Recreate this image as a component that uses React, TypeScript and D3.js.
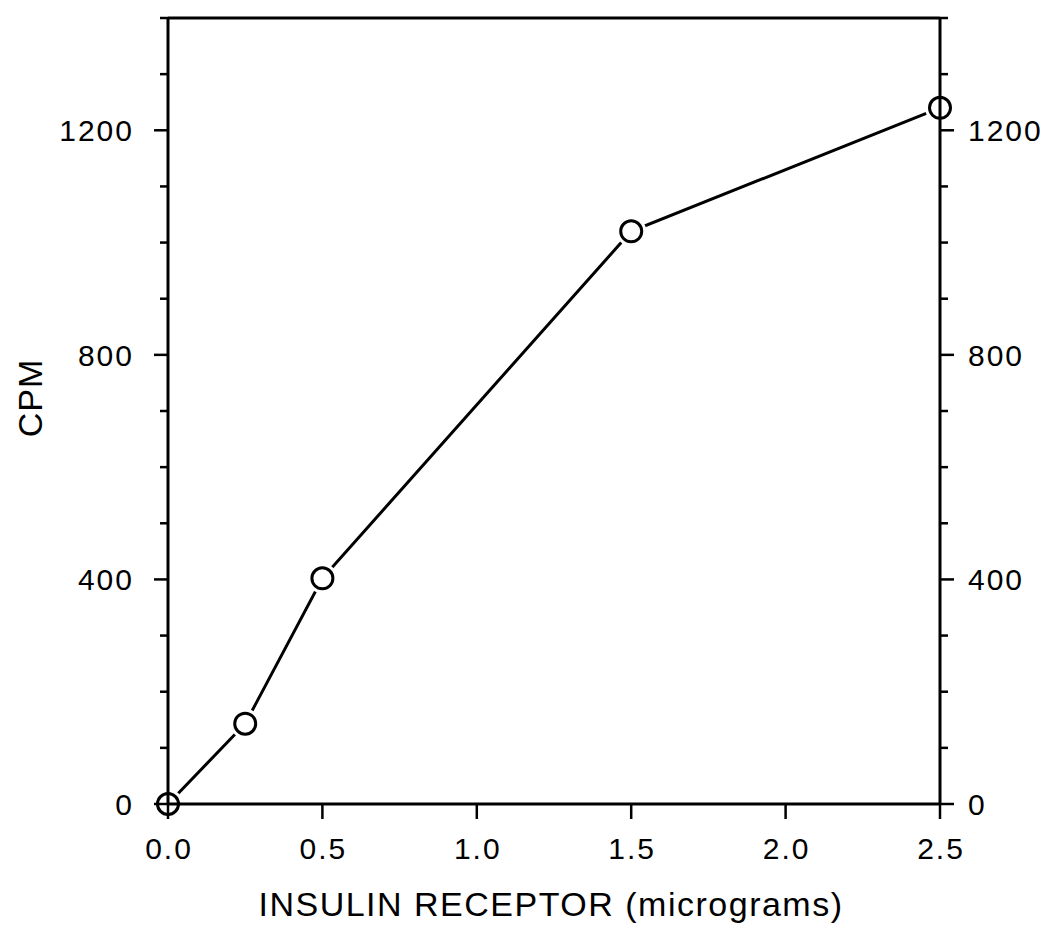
import React from "react";
import * as d3 from "d3";

const xValues = [0, 0.25, 0.5, 1.5, 2.5];
const cpmValues = [0, 143, 402, 1020, 1240];
const xTicks = [0, 0.5, 1.0, 1.5, 2.0, 2.5];
const yMajorTicks = [0, 400, 800, 1200];
const yMinorTicks = d3.range(0, 1401, 100);

const W = 1051;
const H = 928;
const M = { left: 168, right: 940, top: 18, bottom: 804 };
const FONT = "'Liberation Sans', Arial, Helvetica, sans-serif";

export default function App() {
  const x = d3.scaleLinear().domain([0, 2.5]).range([M.left, M.right]);
  const y = d3.scaleLinear().domain([0, 1400]).range([M.bottom, M.top]);
  const pts = xValues.map((v, i) => [v, cpmValues[i]] as [number, number]);
  const line = d3.line<[number, number]>().x((d) => x(d[0])).y((d) => y(d[1]));

  const majorLen = 14;
  const minorLen = 8;
  const sw = 3;

  return (
    <svg
      width={W}
      height={H}
      style={{ position: "absolute", left: 0, top: 0, background: "#fff" }}
      fontFamily={FONT}
    >
      <rect x={0} y={0} width={W} height={H} fill="#fff" />
      {/* data line */}
      <path d={line(pts) || ""} fill="none" stroke="#000" strokeWidth={3} />
      {/* white halos so the line stops short of markers */}
      {pts.map((d, i) => (
        <circle key={"h" + i} cx={x(d[0])} cy={y(d[1])} r={15} fill="#fff" />
      ))}
      {/* frame */}
      <line x1={M.left} x2={M.left} y1={M.top} y2={M.bottom} stroke="#000" strokeWidth={sw} />
      <line x1={M.right} x2={M.right} y1={M.top} y2={M.bottom} stroke="#000" strokeWidth={sw} />
      <line x1={M.left} x2={M.right} y1={M.bottom} y2={M.bottom} stroke="#000" strokeWidth={sw} />
      <line x1={M.left} x2={M.right} y1={M.top} y2={M.top} stroke="#000" strokeWidth={sw} />
      {/* y ticks left & right */}
      {yMinorTicks.map((t) => {
        const len = yMajorTicks.includes(t) ? majorLen : minorLen;
        return (
          <g key={"yt" + t}>
            <line x1={M.left - len} x2={M.left} y1={y(t)} y2={y(t)} stroke="#000" strokeWidth={2.5} />
            <line x1={M.right} x2={M.right + len} y1={y(t)} y2={y(t)} stroke="#000" strokeWidth={2.5} />
          </g>
        );
      })}
      {/* x ticks */}
      {xTicks.map((t) => (
        <line key={"xt" + t} x1={x(t)} x2={x(t)} y1={M.bottom} y2={M.bottom + 15} stroke="#000" strokeWidth={2.5} />
      ))}
      {/* markers */}
      {pts.map((d, i) => (
        <circle key={"c" + i} cx={x(d[0])} cy={y(d[1])} r={10.5} fill="none" stroke="#000" strokeWidth={3} />
      ))}
      {/* y tick labels */}
      {yMajorTicks.map((t) => (
        <g key={"yl" + t} fontSize={30} letterSpacing={2}>
          <text x={M.left - 34} y={y(t)} dy="0.36em" textAnchor="end">
            {t}
          </text>
          <text x={M.right + 28} y={y(t)} dy="0.36em" textAnchor="start">
            {t}
          </text>
        </g>
      ))}
      {/* x tick labels */}
      {xTicks.map((t) => (
        <text key={"xl" + t} x={x(t) + 1} y={859} textAnchor="middle" fontSize={30} letterSpacing={2}>
          {d3.format(".1f")(t)}
        </text>
      ))}
      {/* axis titles */}
      <text x={551} y={916} textAnchor="middle" fontSize={34} letterSpacing={1.5}>
        INSULIN RECEPTOR (micrograms)
      </text>
      <text
        transform={`translate(42, 398) rotate(-90)`}
        textAnchor="middle"
        fontSize={34}
        letterSpacing={1}
      >
        CPM
      </text>
    </svg>
  );
}
